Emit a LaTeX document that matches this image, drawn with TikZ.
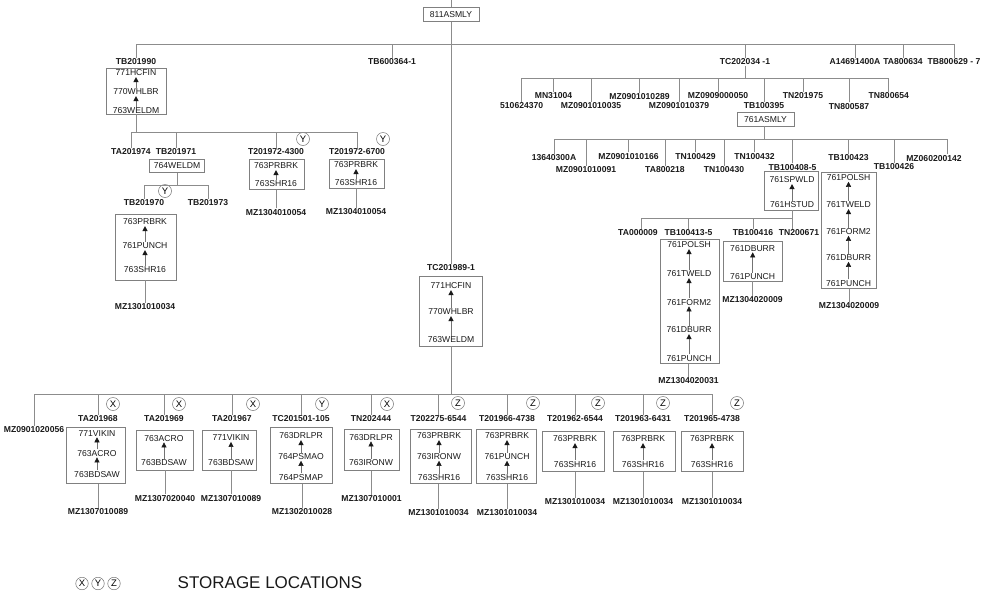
\documentclass[tikz,border=0pt]{standalone}
\usepackage{fontspec}
\setmainfont{Liberation Sans}
\usetikzlibrary{arrows.meta}
\definecolor{wire}{gray}{0.55}
\definecolor{frame}{gray}{0.5}
\definecolor{ink}{gray}{0.1}
\tikzset{
        part/.style={ % part numbers (bold labels)
            font=\fontsize{8.6}{10}\selectfont\bfseries,
            text=ink, inner sep=0.8pt},
        op/.style={ % operation codes inside the routing boxes
            font=\fontsize{8.6}{10}\selectfont,
            text=ink, inner sep=0.8pt},
        route/.style={draw=frame, line width=0.7pt, inner sep=0pt}, % routing box
        loc/.style={ % storage location marks
            circle, draw=black!55, line width=0.5pt,
            minimum size=13pt, inner sep=0pt,
            font=\fontsize{9.5}{10}\selectfont},
        tree/.style={draw=wire, line width=0.7pt}, % structure lines
        flow/.style={draw=black!55, line width=0.5pt,
            -{Triangle[width=5pt,length=5pt,color=ink]}} % operation order
        }

\begin{document}
\begin{tikzpicture}[x=1pt,y=-1pt]
    \useasboundingbox (0,0) rectangle (1000,598);

    % ---- top level
    \coordinate (feed) at (451,0);
    \coordinate (bus0) at (0,44);
    \node[route, op, minimum width=56pt, minimum height=13.5pt] (asm811) at (451,14.5) {811ASMLY};
    \node[part] (tb201990) at (136,62) {TB201990};
    \node[part] (tb6003641) at (392,62) {TB600364-1};
    \node[part] (tc2020341) at (745,62) {TC202034 -1};
    \node[part] (a14691400a) at (855,62) {A14691400A};
    \node[part] (ta800634) at (903,62) {TA800634};
    \node[part] (tb8006297) at (954,62) {TB800629 - 7};

    \draw[tree]
        (tb201990.north |- bus0) -- (tb8006297.north |- bus0)
        (tb201990.north) edge (tb201990.north |- bus0)
        (tb6003641.north) edge (tb6003641.north |- bus0)
        (tc2020341.north) edge (tc2020341.north |- bus0)
        (a14691400a.north) edge (a14691400a.north |- bus0)
        (ta800634.north) edge (ta800634.north |- bus0)
        (tb8006297.north) edge (tb8006297.north |- bus0);

    % ---- TB201990
    \node[route, minimum width=60pt, minimum height=46pt] (box1) at (136,91) {};
    \node[op] (hcfin1) at (136,73) {771HCFIN};
    \node[op] (whlbr1) at (136,92) {770WHLBR};
    \node[op] (weldm1) at (136,111) {763WELDM};
    \draw[flow] (whlbr1) -- (hcfin1);
    \draw[flow] (weldm1) -- (whlbr1);

    \coordinate (bus1) at (0,132);
    \node[part] (ta201974) at (131,152) {TA201974};
    \node[part] (tb201971) at (176,152) {TB201971};
    \node[part] (t2019724300) at (276,152) {T201972-4300};
    \node[part] (t2019726700) at (357,152) {T201972-6700};
    \node[loc] (locy1) at (303,139) {Y};
    \node[loc] (locy2) at (383,139) {Y};
    \draw[tree]
        (box1.south) -- (box1.south |- bus1)
        (ta201974.north |- bus1) -- (t2019726700.north |- bus1)
        (ta201974.north) edge (ta201974.north |- bus1)
        (tb201971.north) edge (tb201971.north |- bus1)
        (t2019724300.north) edge (t2019724300.north |- bus1)
        (t2019726700.north) edge (t2019726700.north |- bus1);

    % TB201971
    \node[route, op, minimum width=55pt, minimum height=12.5pt] (weldm764) at (177,166) {764WELDM};
    \coordinate (bus2) at (0,185);
    \node[part] (tb201970) at (144,203) {TB201970};
    \node[part] (tb201973) at (208,203) {TB201973};
    \node[loc] (locy3) at (165,191) {Y};
    \draw[tree]
        (weldm764.south) -- (weldm764.south |- bus2)
        (tb201970.north |- bus2) -- (tb201973.north |- bus2)
        (tb201970.north) edge (tb201970.north |- bus2)
        (tb201973.north) edge (tb201973.north |- bus2);

    \node[route, minimum width=61pt, minimum height=66pt] (box2) at (145.5,247) {};
    \node[op] (prbrk2) at (145,222) {763PRBRK};
    \node[op] (punch2) at (145,246) {761PUNCH};
    \node[op] (shr2) at (145,270) {763SHR16};
    \draw[flow] (punch2) -- (prbrk2);
    \draw[flow] (shr2) -- (punch2);
    \node[part] (mz2) at (145,307) {MZ1301010034};
    \draw[tree] (mz2.north) -- (mz2.north |- box2.south);

    % T201972-4300 / -6700
    \node[route, minimum width=55pt, minimum height=30pt] (box3) at (276.7,174.3) {};
    \node[op] (prbrk3) at (276,166) {763PRBRK};
    \node[op] (shr3) at (276,184) {763SHR16};
    \draw[flow] (shr3) -- (prbrk3);
    \node[part] (mz3) at (276,212.5) {MZ1304010054};
    \draw[tree] (mz3.north) -- (mz3.north |- box3.south);

    \node[route, minimum width=55pt, minimum height=29pt] (box4) at (356.7,173.5) {};
    \node[op] (prbrk4) at (356,165) {763PRBRK};
    \node[op] (shr4) at (356,183) {763SHR16};
    \draw[flow] (shr4) -- (prbrk4);
    \node[part] (mz4) at (356,212) {MZ1304010054};
    \draw[tree] (mz4.north) -- (mz4.north |- box4.south);

    % ---- TC201989-1
    \node[part] (tc2019891) at (451,268) {TC201989-1};
    \node[route, minimum width=63pt, minimum height=70pt] (box9) at (451,311) {};
    \node[op] (hcfin9) at (451,286) {771HCFIN};
    \node[op] (whlbr9) at (451,312) {770WHLBR};
    \node[op] (weldm9) at (451,340) {763WELDM};
    \draw[flow] (whlbr9) -- (hcfin9);
    \draw[flow] (weldm9) -- (whlbr9);
    \draw[tree] (feed) -- (asm811.north);
    \draw[tree] (asm811.south) -- (tc2019891.north);

    \coordinate (bus5) at (0,394);
    \node[part] (mz0901020056) at (34,430) {MZ0901020056};
    \node[part] (ta201968) at (98,419) {TA201968};
    \node[part] (ta201969) at (164,419) {TA201969};
    \node[part] (ta201967) at (232,419) {TA201967};
    \node[part] (tc201501105) at (301,419) {TC201501-105};
    \node[part] (tn202444) at (371,419) {TN202444};
    \node[part] (t2022756544) at (438.5,419) {T202275-6544};
    \node[part] (t2019664738) at (507,419) {T201966-4738};
    \node[part] (t2019626544) at (575,419) {T201962-6544};
    \node[part] (t2019636431) at (643,419) {T201963-6431};
    \node[part] (t2019654738) at (712,419) {T201965-4738};
    \node[loc] (locx1) at (113,404) {X};
    \node[loc] (locx2) at (179,404) {X};
    \node[loc] (locx3) at (253,404) {X};
    \node[loc] (locy4) at (322,404) {Y};
    \node[loc] (locx4) at (387,404) {X};
    \node[loc] (locz1) at (458,403) {Z};
    \node[loc] (locz2) at (533,403) {Z};
    \node[loc] (locz3) at (598,403) {Z};
    \node[loc] (locz4) at (663,403) {Z};
    \node[loc] (locz5) at (737,403) {Z};
    \draw[tree]
        (box9.south) -- (box9.south |- bus5)
        (mz0901020056.north |- bus5) -- (t2019654738.north |- bus5)
        (mz0901020056.north) edge (mz0901020056.north |- bus5)
        (ta201968.north) edge (ta201968.north |- bus5)
        (ta201969.north) edge (ta201969.north |- bus5)
        (ta201967.north) edge (ta201967.north |- bus5)
        (tc201501105.north) edge (tc201501105.north |- bus5)
        (tn202444.north) edge (tn202444.north |- bus5)
        (t2022756544.north) edge (t2022756544.north |- bus5)
        (t2019664738.north) edge (t2019664738.north |- bus5)
        (t2019626544.north) edge (t2019626544.north |- bus5)
        (t2019636431.north) edge (t2019636431.north |- bus5)
        (t2019654738.north) edge (t2019654738.north |- bus5);

    % TA201968
    \node[route, minimum width=59pt, minimum height=56pt] (box11) at (96,455.3) {};
    \node[op] (vikin11) at (97,433.3) {771VIKIN};
    \node[op] (acro11) at (97,453.3) {763ACRO};
    \node[op] (bdsaw11) at (97,474.3) {763BDSAW};
    \draw[flow] (acro11) -- (vikin11);
    \draw[flow] (bdsaw11) -- (acro11);
    \node[part] (mz11) at (98,512) {MZ1307010089};
    \draw[tree] (mz11.north) -- (mz11.north |- box11.south);

    % TA201969
    \node[route, minimum width=57pt, minimum height=40pt] (box12) at (165.3,450) {};
    \node[op] (acro12) at (164,438.3) {763ACRO};
    \node[op] (bdsaw12) at (164,462.7) {763BDSAW};
    \draw[flow] (bdsaw12) -- (acro12);
    \node[part] (mz12) at (165,498.3) {MZ1307020040};
    \draw[tree] (mz12.north) -- (mz12.north |- box12.south);

    % TA201967
    \node[route, minimum width=54pt, minimum height=40pt] (box13) at (229.5,450) {};
    \node[op] (vikin13) at (231,438) {771VIKIN};
    \node[op] (bdsaw13) at (231,463) {763BDSAW};
    \draw[flow] (bdsaw13) -- (vikin13);
    \node[part] (mz13) at (231,498.3) {MZ1307010089};
    \draw[tree] (mz13.north) -- (mz13.north |- box13.south);

    % TC201501-105
    \node[route, minimum width=62pt, minimum height=56pt] (box14) at (301,455.3) {};
    \node[op] (drlpr14) at (301,436) {763DRLPR};
    \node[op] (psmao14) at (301,456.7) {764PSMAO};
    \node[op] (psmap14) at (301,477.3) {764PSMAP};
    \draw[flow] (psmao14) -- (drlpr14);
    \draw[flow] (psmap14) -- (psmao14);
    \node[part] (mz14) at (302,512) {MZ1302010028};
    \draw[tree] (mz14.north) -- (mz14.north |- box14.south);

    % TN202444
    \node[route, minimum width=55pt, minimum height=41pt] (box15) at (371.5,449.7) {};
    \node[op] (drlpr15) at (371,437.3) {763DRLPR};
    \node[op] (ironw15) at (371,462.7) {763IRONW};
    \draw[flow] (ironw15) -- (drlpr15);
    \node[part] (mz15) at (371.5,499) {MZ1307010001};
    \draw[tree] (mz15.north) -- (mz15.north |- box15.south);

    % T202275-6544
    \node[route, minimum width=61pt, minimum height=54pt] (box16) at (440.5,456.3) {};
    \node[op] (prbrk16) at (439,436) {763PRBRK};
    \node[op] (ironw16) at (439,456.7) {763IRONW};
    \node[op] (shr16) at (439,477.7) {763SHR16};
    \draw[flow] (ironw16) -- (prbrk16);
    \draw[flow] (shr16) -- (ironw16);
    \node[part] (mz16) at (438.5,512.7) {MZ1301010034};
    \draw[tree] (mz16.north) -- (mz16.north |- box16.south);

    % T201966-4738
    \node[route, minimum width=60pt, minimum height=54pt] (box17) at (506.7,456.3) {};
    \node[op] (prbrk17) at (507,436) {763PRBRK};
    \node[op] (punch17) at (507,456.7) {761PUNCH};
    \node[op] (shr17) at (507,477.7) {763SHR16};
    \draw[flow] (punch17) -- (prbrk17);
    \draw[flow] (shr17) -- (punch17);
    \node[part] (mz17) at (507,512.7) {MZ1301010034};
    \draw[tree] (mz17.north) -- (mz17.north |- box17.south);

    % T201962-6544 / T201963-6431 / T201965-4738
    \node[route, minimum width=62pt, minimum height=40.7pt] (box18) at (573.8,451.3) {};
    \node[op] (prbrk18) at (575,439) {763PRBRK};
    \node[op] (shr18) at (575,464.3) {763SHR16};
    \draw[flow] (shr18) -- (prbrk18);
    \node[part] (mz18) at (575,501.7) {MZ1301010034};
    \draw[tree] (mz18.north) -- (mz18.north |- box18.south);

    \node[route, minimum width=62pt, minimum height=40.7pt] (box19) at (644.5,451.3) {};
    \node[op] (prbrk19) at (643,439) {763PRBRK};
    \node[op] (shr19) at (643,464.3) {763SHR16};
    \draw[flow] (shr19) -- (prbrk19);
    \node[part] (mz19) at (643,501.7) {MZ1301010034};
    \draw[tree] (mz19.north) -- (mz19.north |- box19.south);

    \node[route, minimum width=61.6pt, minimum height=40.7pt] (box20) at (712.5,451.3) {};
    \node[op] (prbrk20) at (712,439) {763PRBRK};
    \node[op] (shr20) at (712,464.3) {763SHR16};
    \draw[flow] (shr20) -- (prbrk20);
    \node[part] (mz20) at (712,501.7) {MZ1301010034};
    \draw[tree] (mz20.north) -- (mz20.north |- box20.south);

    % ---- TC202034 -1
    \coordinate (busa) at (0,78.3);
    \node[part] (n510624370) at (521.7,106) {510624370};
    \node[part] (mn31004) at (553.5,96) {MN31004};
    \node[part] (mz0901010035) at (591,106) {MZ0901010035};
    \node[part] (mz0901010289) at (639.5,97) {MZ0901010289};
    \node[part] (mz0901010379) at (679,106) {MZ0901010379};
    \node[part] (mz0909000050) at (718,96) {MZ0909000050};
    \node[part] (tb100395) at (764,106) {TB100395};
    \node[part] (tn201975) at (803,96) {TN201975};
    \node[part] (tn800587) at (849,106.5) {TN800587};
    \node[part] (tn800654) at (888.8,96) {TN800654};
    \draw[tree]
        (tc2020341.south) -- (tc2020341.south |- busa)
        (n510624370.north |- busa) -- (tn800654.north |- busa)
        (n510624370.north) edge (n510624370.north |- busa)
        (mn31004.north) edge (mn31004.north |- busa)
        (mz0901010035.north) edge (mz0901010035.north |- busa)
        (mz0901010289.north) edge (mz0901010289.north |- busa)
        (mz0901010379.north) edge (mz0901010379.north |- busa)
        (mz0909000050.north) edge (mz0909000050.north |- busa)
        (tb100395.north) edge (tb100395.north |- busa)
        (tn201975.north) edge (tn201975.north |- busa)
        (tn800587.north) edge (tn800587.north |- busa)
        (tn800654.north) edge (tn800654.north |- busa);

    % TB100395
    \node[route, op, minimum width=57pt, minimum height=13.3pt] (asm761) at (765.5,119.3) {761ASMLY};
    \coordinate (busb) at (0,139.3);
    \node[part] (n13640300a) at (554,158) {13640300A};
    \node[part] (mz0901010091) at (586,170) {MZ0901010091};
    \node[part] (mz0901010166) at (628.5,156.5) {MZ0901010166};
    \node[part] (ta800218) at (665,170) {TA800218};
    \node[part] (tn100429) at (695.5,156.5) {TN100429};
    \node[part] (tn100430) at (724,170) {TN100430};
    \node[part] (tn100432) at (754.5,156.5) {TN100432};
    \node[part] (tb1004085) at (792.5,167.3) {TB100408-5};
    \node[part] (tb100423) at (848.5,157.7) {TB100423};
    \node[part] (tb100426) at (894,166.7) {TB100426};
    \node[part] (mz060200142) at (934,158.3) {MZ060200142};
    \draw[tree]
        (tb100395.south |- asm761.south) -- (tb100395.south |- busb)
        (n13640300a.north |- busb) -- ([xshift=13pt]mz060200142.north |- busb)
        (n13640300a.north) edge (n13640300a.north |- busb)
        (mz0901010091.north) edge (mz0901010091.north |- busb)
        (mz0901010166.north) edge (mz0901010166.north |- busb)
        (ta800218.north) edge (ta800218.north |- busb)
        (tn100429.north) edge (tn100429.north |- busb)
        (tn100430.north) edge (tn100430.north |- busb)
        (tn100432.north) edge (tn100432.north |- busb)
        (tb1004085.north) edge (tb1004085.north |- busb)
        (tb100423.north) edge (tb100423.north |- busb)
        (tb100426.north) edge (tb100426.north |- busb)
        ([xshift=13pt]mz060200142.north) edge ([xshift=13pt]mz060200142.north |- busb);

    % TB100408-5
    \node[route, minimum width=54.3pt, minimum height=38.3pt] (box21) at (791,190.8) {};
    \node[op] (spwld21) at (792,180) {761SPWLD};
    \node[op] (hstud21) at (792,205) {761HSTUD};
    \draw[flow] (hstud21) -- (spwld21);

    % TB100423
    \node[route, minimum width=54.3pt, minimum height=116pt] (box22) at (848.8,230.3) {};
    \node[op] (polsh22) at (848.5,177.7) {761POLSH};
    \node[op] (tweld22) at (848.5,205) {761TWELD};
    \node[op] (form22) at (848.5,231.7) {761FORM2};
    \node[op] (dburr22) at (848.5,257.7) {761DBURR};
    \node[op] (punch22) at (848.5,283.3) {761PUNCH};
    \draw[flow] (tweld22) -- (polsh22);
    \draw[flow] (form22) -- (tweld22);
    \draw[flow] (dburr22) -- (form22);
    \draw[flow] (punch22) -- (dburr22);
    \node[part] (mz22) at (849,306) {MZ1304020009};
    \draw[tree] (mz22.north) -- (mz22.north |- box22.south);

    \coordinate (busc) at (0,218);
    \node[part] (ta000009) at (638,232.7) {TA000009};
    \node[part] (tb1004135) at (688.5,232.7) {TB100413-5};
    \node[part] (tb100416) at (753,232.7) {TB100416};
    \node[part] (tn200671) at (799,232.7) {TN200671};
    \draw[tree]
        (tb1004085.south |- box21.south) -- (tb1004085.south |- busc)
        ([xshift=3pt]ta000009.north |- busc) -- (tb1004085.south |- busc)
        ([xshift=3pt]ta000009.north) edge ([xshift=3pt]ta000009.north |- busc)
        (tb1004135.north) edge (tb1004135.north |- busc)
        (tb100416.north) edge (tb100416.north |- busc)
        ([xshift=-6.5pt]tn200671.north) edge ([xshift=-6.5pt]tn200671.north |- busc);

    % TB100413-5
    \node[route, minimum width=59.3pt, minimum height=124pt] (box23) at (689.7,301.3) {};
    \node[op] (polsh23) at (689,245) {761POLSH};
    \node[op] (tweld23) at (689,274) {761TWELD};
    \node[op] (form23) at (689,302.3) {761FORM2};
    \node[op] (dburr23) at (689,330) {761DBURR};
    \node[op] (punch23) at (689,358.3) {761PUNCH};
    \draw[flow] (tweld23) -- (polsh23);
    \draw[flow] (form23) -- (tweld23);
    \draw[flow] (dburr23) -- (form23);
    \draw[flow] (punch23) -- (dburr23);
    \node[part] (mz23) at (688.5,380.7) {MZ1304020031};
    \draw[tree] (mz23.north) -- (mz23.north |- box23.south);

    % TB100416
    \node[route, minimum width=59pt, minimum height=39.3pt] (box24) at (752.8,261.3) {};
    \node[op] (dburr24) at (752.7,248.3) {761DBURR};
    \node[op] (punch24) at (752.7,276.7) {761PUNCH};
    \draw[flow] (punch24) -- (dburr24);
    \node[part] (mz24) at (752.5,300) {MZ1304020009};
    \draw[tree] (mz24.north) -- (mz24.north |- box24.south);

    % ---- legend
    \node[loc, minimum size=12.5pt] (keyx) at (82,583.5) {X};
    \node[loc, minimum size=12.5pt] (keyy) at (98,583.5) {Y};
    \node[loc, minimum size=12.5pt] (keyz) at (114,583.5) {Z};
    \node[font=\fontsize{17}{20}\selectfont, text=ink, inner sep=0pt] (keytext) at (270,583) {STORAGE LOCATIONS};
\end{tikzpicture}
\end{document}
